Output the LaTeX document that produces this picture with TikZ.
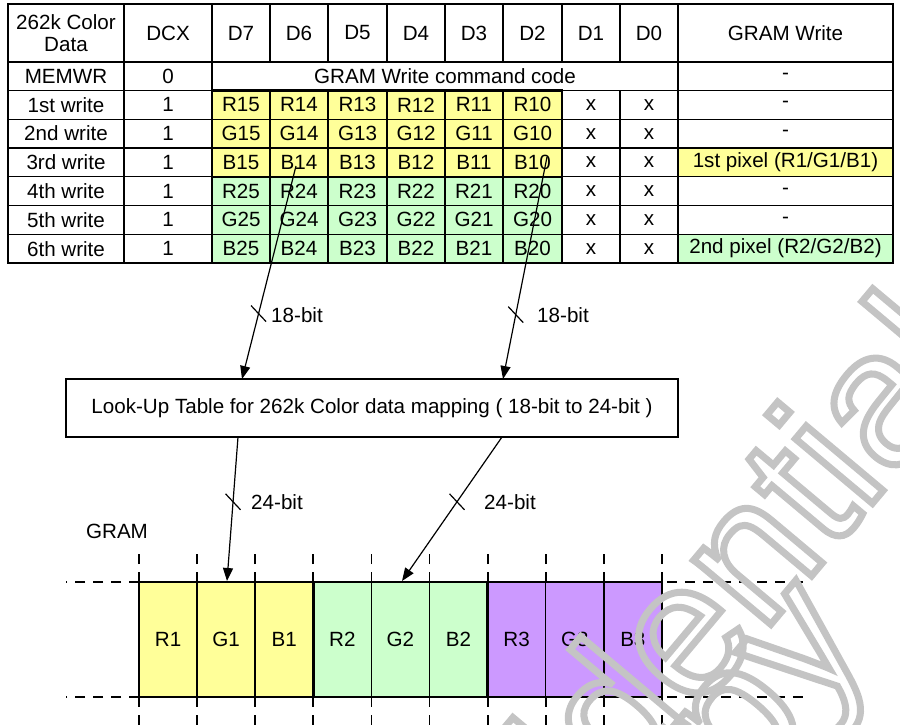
\documentclass[tikz,border=0pt]{standalone}
\usepackage{fontspec}
\setmainfont{Liberation Sans}
\usetikzlibrary{arrows.meta,calc}
\definecolor{cyel}{HTML}{FFFF99}
\definecolor{cgrn}{HTML}{CCFFCC}
\definecolor{cpur}{HTML}{CC99FF}
\definecolor{wmgray}{HTML}{C4C4C4}
\newcommand\fsz{\fontsize{20.6}{23}\selectfont}
\newcommand\tc[7]{\node[tcell,fill=#6,minimum width={#3-#2},minimum height={#5-#4}] (#1) at ({(#2+#3)/2},{(#4+#5)/2}) {#7};}
\newcommand\datarow[9]{%
 \tc{r#1l}{8}{124}{#2}{#3}{white}{#4}
 \tc{r#1x}{124}{212}{#2}{#3}{white}{1}
 \tc{r#1d7}{212}{270}{#2}{#3}{#5}{#6#75}
 \tc{r#1d6}{270}{328}{#2}{#3}{#5}{#6#74}
 \tc{r#1d5}{328}{387}{#2}{#3}{#5}{#6#73}
 \tc{r#1d4}{387}{445}{#2}{#3}{#5}{#6#72}
 \tc{r#1d3}{445}{503}{#2}{#3}{#5}{#6#71}
 \tc{r#1d2}{503}{562}{#2}{#3}{#5}{#6#70}
 \tc{r#1d1}{562}{620}{#2}{#3}{white}{x}
 \tc{r#1d0}{620}{678}{#2}{#3}{white}{x}
 \tc{r#1g}{678}{893}{#2}{#3}{#9}{#8}
}
\newcommand\outl[1]{\special{pdf:literal direct 1 Tr 7 w}#1\special{pdf:literal direct 0 Tr}}
\begin{document}
\begin{tikzpicture}[x=1pt,y=-1pt,
  tcell/.style={draw=black,line width=1.2pt,inner sep=0pt,outer sep=0pt,font=\fsz,align=center},
  grpbox/.style={draw=black,line width=2.4pt},
  gcell/.style={draw=black,line width=1.5pt,inner sep=0pt,outer sep=0pt,font=\fsz,minimum width=58.1,minimum height=115},
  arr/.style={draw=black,line width=1.2pt,-{Triangle[length=13pt,width=10pt]}},
  tick/.style={draw=black,line width=1.2pt},
  lbl/.style={font=\fsz,inner sep=0pt},
  dashln/.style={draw=black,line width=1.8pt,dash pattern=on 10pt off 8pt},
  wmark/.style={text=wmgray,font=\fontsize{190}{200}\selectfont,inner sep=0pt}]
\fill[white] (0,0) rectangle (900,724);
\useasboundingbox (0,0) rectangle (900,724);
% header
\tc{hl}{8}{124}{4}{62}{white}{262k Color\\[-1pt]Data}
\tc{hx}{124}{212}{4}{62}{white}{DCX}
\tc{h7}{212}{270}{4}{62}{white}{D7}
\tc{h6}{270}{328}{4}{62}{white}{D6}
\tc{h5}{328}{387}{4}{62}{white}{D5}
\tc{h4}{387}{445}{4}{62}{white}{D4}
\tc{h3}{445}{503}{4}{62}{white}{D3}
\tc{h2}{503}{562}{4}{62}{white}{D2}
\tc{h1}{562}{620}{4}{62}{white}{D1}
\tc{h0}{620}{678}{4}{62}{white}{D0}
\tc{hg}{678}{893}{4}{62}{white}{GRAM Write}
% MEMWR
\tc{ml}{8}{124}{62}{90.5}{white}{MEMWR}
\tc{mx}{124}{212}{62}{90.5}{white}{0}
\tc{mc}{212}{678}{62}{90.5}{white}{GRAM Write command code}
\tc{mg}{678}{893}{62}{90.5}{white}{-}
\datarow{1}{90.5}{119.2}{1st write}{cyel}{R}{1}{-}{white}
\datarow{2}{119.2}{148}{2nd write}{cyel}{G}{1}{-}{white}
\datarow{3}{148}{176.8}{3rd write}{cyel}{B}{1}{1st pixel (R1/G1/B1)}{cyel}
\datarow{4}{176.8}{205.5}{4th write}{cgrn}{R}{2}{-}{white}
\datarow{5}{205.5}{234.3}{5th write}{cgrn}{G}{2}{-}{white}
\datarow{6}{234.3}{263}{6th write}{cgrn}{B}{2}{2nd pixel (R2/G2/B2)}{cgrn}
\draw[grpbox] (r1d7.north west) rectangle (r3d2.south east);
\draw[grpbox] (r4d7.north west) rectangle (r6d2.south east);
% LUT box
\node[draw=black,line width=1.3pt,minimum width=612,minimum height=58,inner sep=0pt,font=\fsz] (lut) at (372,408) {Look-Up Table for 262k Color data mapping ( 18-bit to 24-bit )};
% GRAM cells
\foreach \n/\t/\c [count=\i from 0] in {g1/R1/cyel,g2/G1/cyel,g3/B1/cyel,g4/R2/cgrn,g5/G2/cgrn,g6/B2/cgrn,g7/R3/cpur,g8/G3/cpur,g9/B3/cpur}
  \node[gcell,fill=\c] (\n) at ({139+58.1*\i+29.05},639.5) {\t};
\draw[grpbox] (g1.north west) rectangle (g3.south east);
\draw[grpbox] (g4.north west) rectangle (g6.south east);
\draw[grpbox] (g7.north west) rectangle (g9.south east);
% dashed guides
\foreach \n in {g1,g2,g3,g4,g5,g6,g7,g8,g9}{
  \draw[dashln] (\n.north west) -- ++(0,-29);
  \draw[dashln] (\n.south west) -- ++(0,29);
}
\draw[dashln] (g9.north east) -- ++(0,-29);
\draw[dashln] (g9.south east) -- ++(0,29);
\draw[dashln] (g1.north west) -- (66,582);
\draw[dashln] (g1.south west) -- (66,697);
\draw[dashln] ([xshift=5pt]g9.north east) -- (805,582);
\draw[dashln] ([xshift=5pt]g9.south east) -- (805,697);
\node[lbl] (gram) at (117,531) {GRAM};
% arrows
\coordinate (a1s) at (296,166);
\coordinate (a1e) at (242,379);
\coordinate (a2s) at (547,157);
\coordinate (a2e) at (503,379);
\coordinate (a3s) at (238,437);
\coordinate (a3e) at (227,581);
\coordinate (a4s) at (502,437);
\coordinate (a4e) at (402,581);
\draw[arr] (a1s) -- coordinate[pos=0.693] (t1) (a1e);
\draw[arr] (a2s) -- coordinate[pos=0.71] (t2) (a2e);
\draw[arr] (a3s) -- coordinate[pos=0.45] (t3) (a3e);
\draw[arr] (a4s) -- coordinate[pos=0.45] (t4) (a4e);
\foreach \t in {t1,t2,t3,t4}
  \draw[tick] ($(\t)+(-7.5,-8)$) -- ($(\t)+(7.5,8)$);
\node[lbl] (l1) at (297,315) {18-bit};
\node[lbl] (l2) at (563,315) {18-bit};
\node[lbl] (l3) at (277,502) {24-bit};
\node[lbl] (l4) at (510,502) {24-bit};
% watermark
\begin{scope}
\clip (0,0) rectangle (900,724);
\node[wmark,rotate=50] (wm1) at (612,708) {\outl{Confidential}};
\node[wmark,rotate=50] (wm2) at (720,778) {\outl{copy}};
\end{scope}
\end{tikzpicture}
\end{document}
